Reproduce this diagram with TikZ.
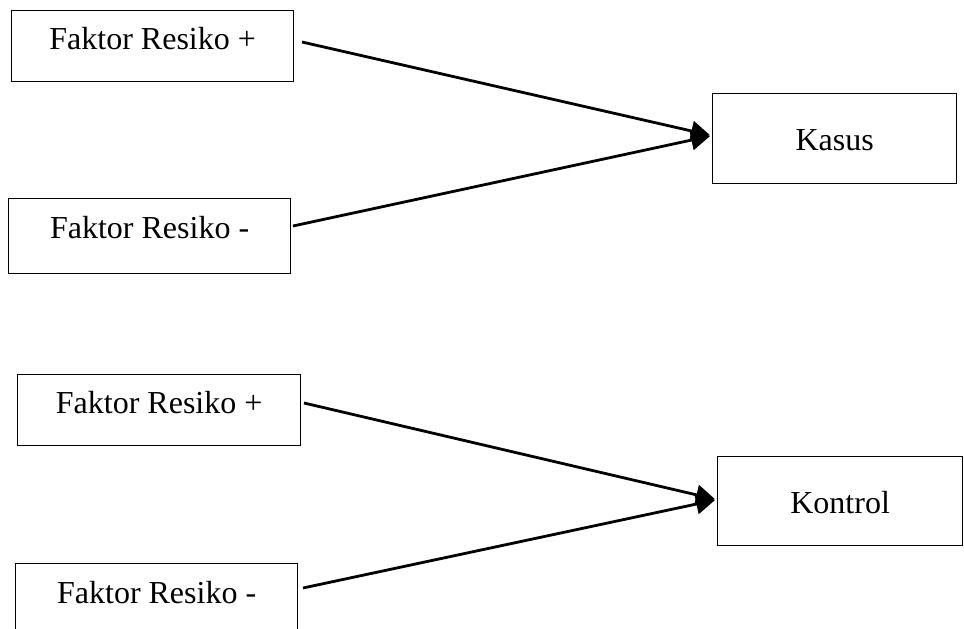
\documentclass[tikz,border=0pt]{standalone}
\usepackage{fontspec}
\setmainfont{Liberation Serif}
\usetikzlibrary{arrows.meta}
\begin{document}
\begin{tikzpicture}[x=1pt,y=-1pt,
  box/.style={draw=black,line width=1.3pt,rectangle,inner sep=0pt,anchor=north west,
    font=\fontsize{32}{38}\selectfont,align=center},
  conn/.style={line width=2.8pt,-{Triangle[length=19pt,width=20pt]},shorten >=2pt}]
\useasboundingbox (0,0) rectangle (964,629);
\clip (0,0) rectangle (964,629);
\node[box,minimum width=282pt,text height=39pt,text depth=32pt] (fp1) at (11,10) {Faktor Resiko +};
\node[box,minimum width=282pt,text height=40pt,text depth=35pt] (fm1) at (8,198) {Faktor Resiko -};
\node[box,minimum width=244pt,text height=57pt,text depth=33pt] (kasus) at (712,93) {Kasus};
\node[box,minimum width=283pt,text height=39pt,text depth=32pt] (fp2) at (17,374) {Faktor Resiko +};
\node[box,minimum width=282pt,text height=40pt,text depth=35pt] (fm2) at (15,563) {Faktor Resiko -};
\node[box,minimum width=245pt,text height=57pt,text depth=32pt] (kontrol) at (717,456) {Kontrol};
\coordinate (s1) at (302,42);
\coordinate (s2) at (293,226);
\coordinate (s3) at (304,403);
\coordinate (s4) at (303,588);
\draw[conn] (s1) -- ([yshift=3pt]kasus.west);
\draw[conn] (s2) -- ([yshift=3pt]kasus.west);
\draw[conn] (s3) -- ([yshift=1.5pt]kontrol.west);
\draw[conn] (s4) -- ([yshift=1.5pt]kontrol.west);
\end{tikzpicture}
\end{document}
